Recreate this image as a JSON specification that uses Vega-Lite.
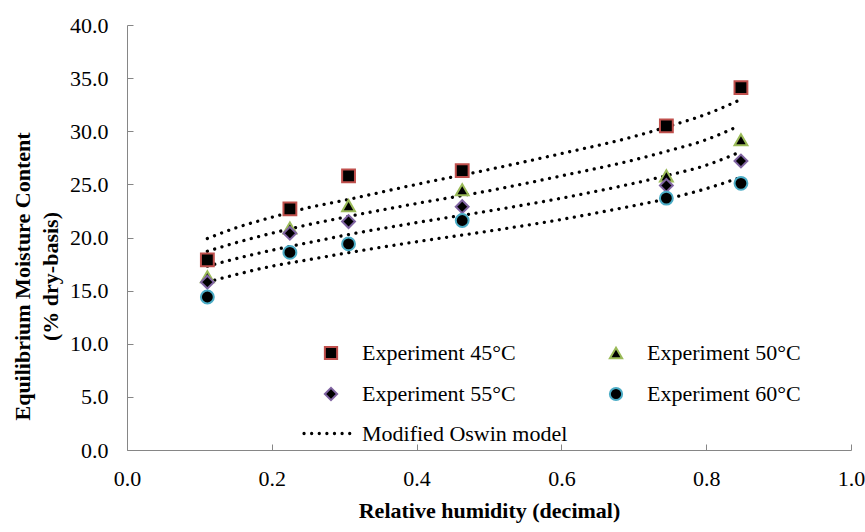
{
  "$schema": "https://vega.github.io/schema/vega-lite/v6.json",
  "width": 724,
  "height": 425,
  "autosize": {"type": "none"},
  "padding": {"left": 127, "top": 25, "right": 14, "bottom": 82},
  "background": "white",
  "config": {"view": {"stroke": null}, "font": "Liberation Serif"},
  "datasets": {
    "exp": [
      {"series": "Experiment 45°C", "rh": 0.111, "emc": 17.9},
      {"series": "Experiment 45°C", "rh": 0.225, "emc": 22.7},
      {"series": "Experiment 45°C", "rh": 0.306, "emc": 25.8},
      {"series": "Experiment 45°C", "rh": 0.463, "emc": 26.3},
      {"series": "Experiment 45°C", "rh": 0.745, "emc": 30.5},
      {"series": "Experiment 45°C", "rh": 0.848, "emc": 34.1},
      {"series": "Experiment 50°C", "rh": 0.111, "emc": 16.3},
      {"series": "Experiment 50°C", "rh": 0.225, "emc": 20.9},
      {"series": "Experiment 50°C", "rh": 0.306, "emc": 23.0},
      {"series": "Experiment 50°C", "rh": 0.463, "emc": 24.5},
      {"series": "Experiment 50°C", "rh": 0.745, "emc": 25.8},
      {"series": "Experiment 50°C", "rh": 0.848, "emc": 29.2},
      {"series": "Experiment 55°C", "rh": 0.111, "emc": 15.8},
      {"series": "Experiment 55°C", "rh": 0.225, "emc": 20.4},
      {"series": "Experiment 55°C", "rh": 0.306, "emc": 21.5},
      {"series": "Experiment 55°C", "rh": 0.463, "emc": 22.9},
      {"series": "Experiment 55°C", "rh": 0.745, "emc": 24.9},
      {"series": "Experiment 55°C", "rh": 0.848, "emc": 27.2},
      {"series": "Experiment 60°C", "rh": 0.111, "emc": 14.4},
      {"series": "Experiment 60°C", "rh": 0.225, "emc": 18.6},
      {"series": "Experiment 60°C", "rh": 0.306, "emc": 19.4},
      {"series": "Experiment 60°C", "rh": 0.463, "emc": 21.6},
      {"series": "Experiment 60°C", "rh": 0.745, "emc": 23.7},
      {"series": "Experiment 60°C", "rh": 0.848, "emc": 25.1}
    ],
    "model": [
      {"temp": "45", "model": "Modified Oswin model", "rh": 0.111, "emc": 19.9},
      {"temp": "45", "model": "Modified Oswin model", "rh": 0.15, "emc": 20.9},
      {"temp": "45", "model": "Modified Oswin model", "rh": 0.2, "emc": 21.9},
      {"temp": "45", "model": "Modified Oswin model", "rh": 0.25, "emc": 22.8},
      {"temp": "45", "model": "Modified Oswin model", "rh": 0.3, "emc": 23.5},
      {"temp": "45", "model": "Modified Oswin model", "rh": 0.4, "emc": 25.0},
      {"temp": "45", "model": "Modified Oswin model", "rh": 0.5, "emc": 26.4},
      {"temp": "45", "model": "Modified Oswin model", "rh": 0.6, "emc": 27.9},
      {"temp": "45", "model": "Modified Oswin model", "rh": 0.7, "emc": 29.5},
      {"temp": "45", "model": "Modified Oswin model", "rh": 0.75, "emc": 30.5},
      {"temp": "45", "model": "Modified Oswin model", "rh": 0.8, "emc": 31.6},
      {"temp": "45", "model": "Modified Oswin model", "rh": 0.845, "emc": 32.9},
      {"temp": "50", "model": "Modified Oswin model", "rh": 0.111, "emc": 18.7},
      {"temp": "50", "model": "Modified Oswin model", "rh": 0.15, "emc": 19.5},
      {"temp": "50", "model": "Modified Oswin model", "rh": 0.2, "emc": 20.4},
      {"temp": "50", "model": "Modified Oswin model", "rh": 0.25, "emc": 21.2},
      {"temp": "50", "model": "Modified Oswin model", "rh": 0.3, "emc": 21.9},
      {"temp": "50", "model": "Modified Oswin model", "rh": 0.4, "emc": 23.2},
      {"temp": "50", "model": "Modified Oswin model", "rh": 0.5, "emc": 24.4},
      {"temp": "50", "model": "Modified Oswin model", "rh": 0.6, "emc": 25.8},
      {"temp": "50", "model": "Modified Oswin model", "rh": 0.7, "emc": 27.3},
      {"temp": "50", "model": "Modified Oswin model", "rh": 0.75, "emc": 28.2},
      {"temp": "50", "model": "Modified Oswin model", "rh": 0.8, "emc": 29.2},
      {"temp": "50", "model": "Modified Oswin model", "rh": 0.845, "emc": 30.5},
      {"temp": "55", "model": "Modified Oswin model", "rh": 0.111, "emc": 17.3},
      {"temp": "55", "model": "Modified Oswin model", "rh": 0.15, "emc": 18.0},
      {"temp": "55", "model": "Modified Oswin model", "rh": 0.2, "emc": 18.8},
      {"temp": "55", "model": "Modified Oswin model", "rh": 0.25, "emc": 19.5},
      {"temp": "55", "model": "Modified Oswin model", "rh": 0.3, "emc": 20.2},
      {"temp": "55", "model": "Modified Oswin model", "rh": 0.4, "emc": 21.4},
      {"temp": "55", "model": "Modified Oswin model", "rh": 0.5, "emc": 22.5},
      {"temp": "55", "model": "Modified Oswin model", "rh": 0.6, "emc": 23.7},
      {"temp": "55", "model": "Modified Oswin model", "rh": 0.7, "emc": 25.1},
      {"temp": "55", "model": "Modified Oswin model", "rh": 0.75, "emc": 25.9},
      {"temp": "55", "model": "Modified Oswin model", "rh": 0.8, "emc": 26.8},
      {"temp": "55", "model": "Modified Oswin model", "rh": 0.845, "emc": 28.0},
      {"temp": "60", "model": "Modified Oswin model", "rh": 0.111, "emc": 15.8},
      {"temp": "60", "model": "Modified Oswin model", "rh": 0.15, "emc": 16.5},
      {"temp": "60", "model": "Modified Oswin model", "rh": 0.2, "emc": 17.3},
      {"temp": "60", "model": "Modified Oswin model", "rh": 0.25, "emc": 17.9},
      {"temp": "60", "model": "Modified Oswin model", "rh": 0.3, "emc": 18.5},
      {"temp": "60", "model": "Modified Oswin model", "rh": 0.4, "emc": 19.6},
      {"temp": "60", "model": "Modified Oswin model", "rh": 0.5, "emc": 20.6},
      {"temp": "60", "model": "Modified Oswin model", "rh": 0.6, "emc": 21.7},
      {"temp": "60", "model": "Modified Oswin model", "rh": 0.7, "emc": 23.0},
      {"temp": "60", "model": "Modified Oswin model", "rh": 0.75, "emc": 23.7},
      {"temp": "60", "model": "Modified Oswin model", "rh": 0.8, "emc": 24.6},
      {"temp": "60", "model": "Modified Oswin model", "rh": 0.845, "emc": 25.6}
    ]
  },
  "encoding": {
    "x": {
      "field": "rh", "type": "quantitative",
      "scale": {"domain": [0, 1], "nice": false, "zero": false},
      "axis": {
        "values": [0, 0.2, 0.4, 0.6, 0.8, 1.0], "format": ".1f", "grid": false,
        "title": "Relative humidity (decimal)",
        "tickSize": -6, "domainColor": "#868686", "tickColor": "#868686",
        "labelFont": "Liberation Serif", "labelFontSize": 22, "labelColor": "black",
        "labelBaseline": "alphabetic", "labelPadding": 41, "labelFlush": false, "labelOverlap": false,
        "titleFont": "Liberation Serif", "titleFontSize": 22, "titleFontWeight": "bold", "titleColor": "black",
        "titleBaseline": "alphabetic", "titleY": 67
      }
    },
    "y": {
      "field": "emc", "type": "quantitative",
      "scale": {"domain": [0, 40], "nice": false, "zero": false},
      "axis": {
        "values": [0, 5, 10, 15, 20, 25, 30, 35, 40], "format": ".1f", "grid": false,
        "title": ["Equilibrium Moisture Content", "(% dry-basis)"],
        "tickSize": -6, "domainColor": "#868686", "tickColor": "#868686",
        "labelFont": "Liberation Serif", "labelFontSize": 22, "labelColor": "black",
        "labelPadding": 25, "labelFlush": false, "labelOverlap": false,
        "titleFont": "Liberation Serif", "titleFontSize": 22, "titleFontWeight": "bold", "titleColor": "black",
        "titleAngle": -90, "titleBaseline": "middle", "titleAlign": "center", "titleX": -105, "titleY": 251, "titleLineHeight": 28
      }
    }
  },
  "layer": [
    {
      "data": {"name": "model"},
      "mark": {"type": "line", "color": "black", "strokeWidth": 3.3, "strokeCap": "round", "interpolate": "monotone"},
      "encoding": {
        "detail": {"field": "temp", "type": "nominal"},
        "strokeDash": {
          "field": "model", "type": "nominal",
          "scale": {"range": [[0.01, 7.6]]},
          "legend": {
            "title": null, "orient": "none", "legendX": 175, "legendY": 380, "padding": 0,
            "symbolType": "stroke", "symbolSize": 2800, "symbolStrokeWidth": 3.3, "symbolStrokeColor": "black",
            "labelFont": "Liberation Serif", "labelFontSize": 22, "labelColor": "black", "labelLimit": 400, "labelOffset": 3,
            "encode": {"symbols": {"update": {"strokeCap": {"value": "round"}, "stroke": {"value": "black"}}}}
          }
        }
      }
    },
    {
      "data": {"name": "exp"},
      "mark": {"type": "point", "filled": true, "fill": "black", "opacity": 1, "strokeWidth": 2, "size": 165},
      "encoding": {
        "shape": {
          "field": "series", "type": "nominal",
          "scale": {"domain": ["Experiment 45°C", "Experiment 50°C", "Experiment 55°C", "Experiment 60°C"], "range": ["square", "triangle-up", "diamond", "circle"]},
          "legend": {
            "title": null, "orient": "none", "legendX": 193, "legendY": 317, "padding": 0,
            "values": ["Experiment 45°C", "Experiment 55°C", "Experiment 50°C", "Experiment 60°C"],
            "columns": 2, "columnPadding": 89, "rowPadding": 19,
            "symbolSize": 150, "symbolStrokeWidth": 2, "symbolFillColor": "black", "symbolOpacity": 1,
            "labelFont": "Liberation Serif", "labelFontSize": 22, "labelColor": "black", "labelLimit": 400, "labelOffset": 20,
            "encode": {"symbols": {"update": {"fill": {"value": "black"}}}}
          }
        },
        "stroke": {
          "field": "series", "type": "nominal",
          "scale": {"domain": ["Experiment 45°C", "Experiment 50°C", "Experiment 55°C", "Experiment 60°C"], "range": ["#C0504D", "#9BBB59", "#8064A2", "#4BACC6"]},
          "legend": {
            "title": null, "orient": "none", "legendX": 193, "legendY": 317, "padding": 0,
            "values": ["Experiment 45°C", "Experiment 55°C", "Experiment 50°C", "Experiment 60°C"],
            "columns": 2, "columnPadding": 89, "rowPadding": 19,
            "symbolSize": 150, "symbolStrokeWidth": 2, "symbolFillColor": "black", "symbolOpacity": 1,
            "labelFont": "Liberation Serif", "labelFontSize": 22, "labelColor": "black", "labelLimit": 400, "labelOffset": 20,
            "encode": {"symbols": {"update": {"fill": {"value": "black"}}}}
          }
        }
      }
    }
  ]
}
